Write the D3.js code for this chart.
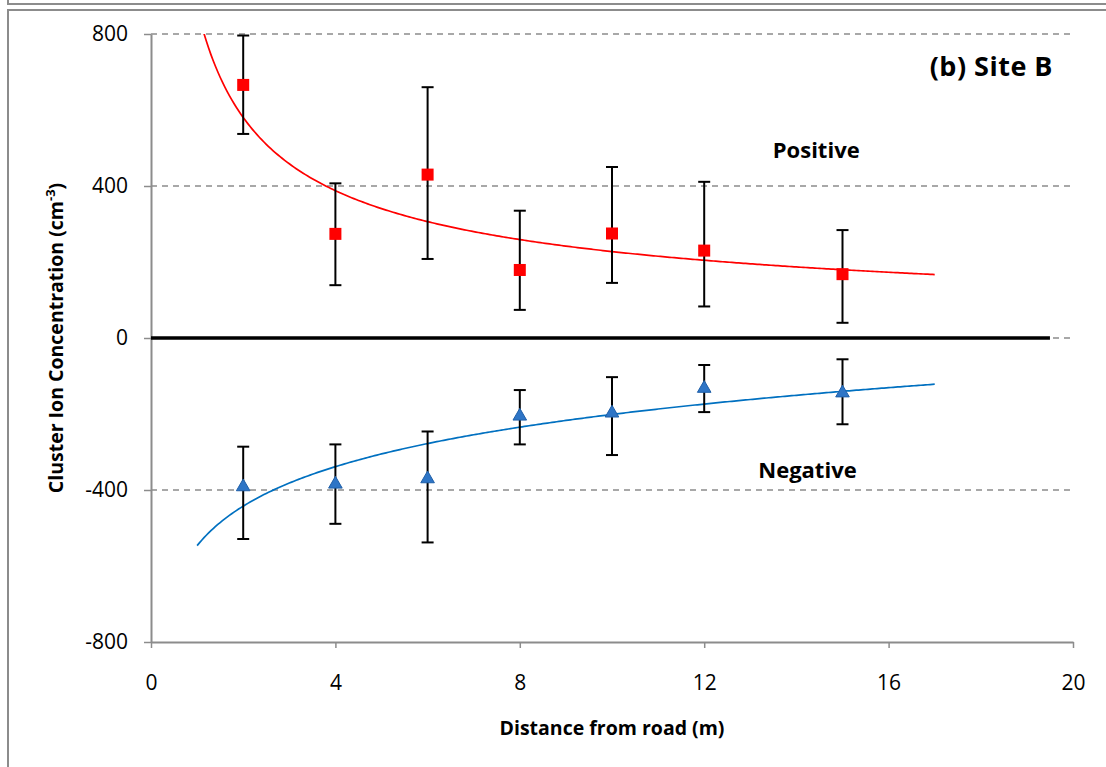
<!DOCTYPE html>
<html>
<head>
<meta charset="utf-8">
<script src="https://cdn.jsdelivr.net/npm/d3@7"></script>
<style>
  body { margin: 0; background: #fff; }
  svg text { fill: #000; }
</style>
</head>
<body>
<svg id="chart"></svg>
<script>
// distances from the road (m)
var distances = [2, 4, 6, 8, 10, 12, 15];
// positive cluster ions: mean, upper and lower error bar ends
var posMean = [666, 274, 430, 179, 275, 230, 168];
var posHigh = [796, 407, 660, 335, 450, 411, 284];
var posLow  = [537, 139, 208, 74, 145, 83, 40];
// negative cluster ions
var negMean = [-389, -382, -368, -203, -195, -130, -142];
var negHigh = [-286, -280, -246, -137, -103, -71, -56];
var negLow  = [-529, -489, -538, -280, -308, -195, -227];
// zero reference line, trendline span
var zeroLine = [0, 19.5];
var trendRange = [1, 17];
var xTicks = [0, 4, 8, 12, 16, 20];
var yTicks = [-800, -400, 0, 400, 800];
var gridVals = [800, 400, 0, -400];

var W = 1106, H = 767;
var margin = {top: 34, right: 33, bottom: 125, left: 151},
    width = W - margin.left - margin.right,
    height = H - margin.top - margin.bottom;

var svg = d3.select("#chart").attr("width", W).attr("height", H);

// outer frame (bottom of the panel above + this panel's box)
svg.append("rect").attr("x", 8).attr("y", -20).attr("width", 1120).attr("height", 24)
    .attr("fill", "none").attr("stroke", "#8c8c8c").attr("stroke-width", 2);
svg.append("rect").attr("x", 8).attr("y", 10).attr("width", 1120).attr("height", 790)
    .attr("fill", "none").attr("stroke", "#8c8c8c").attr("stroke-width", 2);

var g = svg.append("g").attr("transform", "translate(" + margin.left + "," + margin.top + ")");

var x = d3.scaleLinear().domain([0, 20]).range([0, width]);
var y = d3.scaleLinear().domain([-800, 800]).range([height, 0]);

g.append("clipPath").attr("id", "plot-clip")
    .append("rect").attr("width", width).attr("height", height);

// dashed gridlines
g.selectAll(".grid").data(gridVals).enter().append("line")
    .attr("x1", 0).attr("x2", width)
    .attr("y1", function (d) { return y(d); })
    .attr("y2", function (d) { return y(d); })
    .attr("stroke", "#8c8c8c").attr("stroke-width", 1.5)
    .attr("stroke-dasharray", "6,5");

// axes (plain hyphen for negatives, like the original)
var plain = function (d) { return String(d); };
var yAxis = d3.axisLeft(y).tickValues(yTicks).tickFormat(plain)
    .tickSizeInner(7).tickSizeOuter(0).tickPadding(16);
var xAxis = d3.axisBottom(x).tickValues(xTicks).tickFormat(plain)
    .tickSizeInner(6).tickSizeOuter(0).tickPadding(27);

var gy = g.append("g").call(yAxis);
var gx = g.append("g").attr("transform", "translate(0," + height + ")").call(xAxis);
[gx, gy].forEach(function (a) {
  a.select(".domain").attr("stroke", "#8c8c8c").attr("stroke-width", 2);
  a.selectAll(".tick line").attr("stroke", "#8c8c8c").attr("stroke-width", 1.5);
  a.selectAll(".tick text").attr("font-family", "'Open Sans', sans-serif")
      .attr("font-size", "21px").attr("fill", "#000");
});

// zero reference line
g.append("line")
    .attr("x1", x(zeroLine[0])).attr("x2", x(zeroLine[1]))
    .attr("y1", y(0)).attr("y2", y(0))
    .attr("stroke", "#000").attr("stroke-width", 3.5);

// fitted trendlines (least squares, as the spreadsheet does)
var lnx = distances.map(Math.log);
function linfit(xs, ys) {
  var mx = d3.mean(xs), my = d3.mean(ys), sxy = 0, sxx = 0;
  xs.forEach(function (v, i) { sxy += (v - mx) * (ys[i] - my); sxx += (v - mx) * (v - mx); });
  var b = sxy / sxx;
  return {b: b, a: my - b * mx};
}
var pw = linfit(lnx, posMean.map(Math.log));       // power fit: y = e^a * x^b
var lg = linfit(lnx, negMean);                       // log fit: y = a + b ln x

var samples = d3.range(trendRange[0], trendRange[1] + 0.001, 0.05);
var line = d3.line()
    .x(function (d) { return x(d[0]); })
    .y(function (d) { return y(d[1]); });

g.append("path")
    .datum(samples.map(function (t) { return [t, Math.exp(pw.a) * Math.pow(t, pw.b)]; }))
    .attr("clip-path", "url(#plot-clip)")
    .attr("d", line).attr("fill", "none").attr("stroke", "#ff0000").attr("stroke-width", 1.7);

g.append("path")
    .datum(samples.map(function (t) { return [t, lg.a + lg.b * Math.log(t)]; }))
    .attr("clip-path", "url(#plot-clip)")
    .attr("d", line).attr("fill", "none").attr("stroke", "#0070c0").attr("stroke-width", 1.7);

// error bars
function errorBars(lo, hi) {
  var eb = g.append("g");
  distances.forEach(function (d, i) {
    var cx = x(d);
    eb.append("line").attr("x1", cx).attr("x2", cx).attr("y1", y(lo[i])).attr("y2", y(hi[i]))
        .attr("stroke", "#000").attr("stroke-width", 2);
    [lo[i], hi[i]].forEach(function (v) {
      eb.append("line").attr("x1", cx - 6).attr("x2", cx + 6).attr("y1", y(v)).attr("y2", y(v))
          .attr("stroke", "#000").attr("stroke-width", 2);
    });
  });
}
errorBars(posLow, posHigh);
errorBars(negLow, negHigh);

// markers
g.selectAll(".pos").data(posMean).enter().append("rect")
    .attr("x", function (d, i) { return x(distances[i]) - 6; })
    .attr("y", function (d) { return y(d) - 6; })
    .attr("width", 12).attr("height", 12)
    .attr("fill", "#ff0000");

var tri = d3.symbol().type(d3.symbolTriangle).size(80);
g.selectAll(".neg").data(negMean).enter().append("path")
    .attr("d", tri)
    .attr("transform", function (d, i) { return "translate(" + x(distances[i]) + "," + (y(d) + 1) + ")"; })
    .attr("fill", "#2e75c6").attr("stroke", "#1f5fa8").attr("stroke-width", 1);

// labels
var bold = "'Open Sans', sans-serif";
g.append("text").attr("x", width - 20).attr("y", 42)
    .attr("text-anchor", "end").attr("font-family", bold).attr("font-weight", "bold")
    .attr("font-size", "27px").attr("letter-spacing", "0.5").text("(b) Site B");
g.append("text").attr("x", x(14.43)).attr("y", 124)
    .attr("text-anchor", "middle").attr("font-family", bold).attr("font-weight", "bold")
    .attr("font-size", "22px").text("Positive");
g.append("text").attr("x", x(14.24)).attr("y", 444)
    .attr("text-anchor", "middle").attr("font-family", bold).attr("font-weight", "bold")
    .attr("font-size", "22px").text("Negative");

g.append("text").attr("x", x(10)).attr("y", height + 93)
    .attr("text-anchor", "middle").attr("font-family", bold).attr("font-weight", "bold")
    .attr("font-size", "19.5px").text("Distance from road (m)");

var yt = svg.append("text")
    .attr("transform", "translate(63," + (margin.top + y(0)) + ")rotate(-90)")
    .attr("text-anchor", "middle").attr("font-family", bold).attr("font-weight", "bold")
    .attr("font-size", "19.5px");
yt.append("tspan").text("Cluster Ion Concentration (cm");
yt.append("tspan").attr("font-size", "13px").attr("dy", "-8").text("-3");
yt.append("tspan").attr("dy", "8").text(")");
</script>
</body>
</html>
